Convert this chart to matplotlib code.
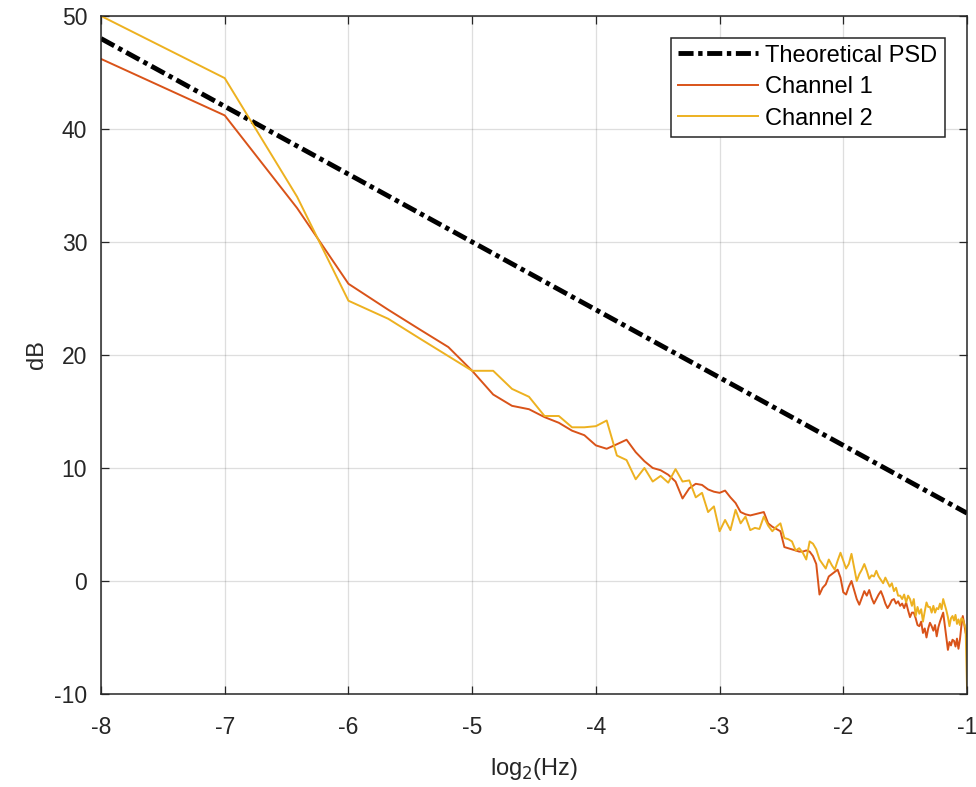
import numpy as np
import matplotlib
matplotlib.use("Agg")
import matplotlib.pyplot as plt

plt.rcParams['font.family'] = ['Liberation Sans', 'DejaVu Sans']
plt.rcParams['axes.unicode_minus'] = False

# =====================
# Data
# =====================
# frequency bins k/256 Hz, k = 1..128 -> plotted as log2(Hz)
bins = np.arange(1, 129)
fs_bins = 256

theory_x = [-8, -1]
theory_db = [48, 6]

ch1_db = [
    46.2, 41.2, 33.0, 26.3, 24.0, 22.2, 20.7, 18.6, 16.5, 15.5,
    15.2, 14.5, 14.0, 13.3, 12.9, 12.0, 11.7, 12.1, 12.5, 11.4,
    10.6, 10.0, 9.8, 9.4, 8.8, 7.3, 8.2, 8.6, 8.5, 8.1,
    7.9, 7.8, 8.0, 7.4, 6.9, 6.1, 5.9, 5.8, 5.9, 6.0,
    6.1, 5.1, 4.8, 4.6, 4.4, 3.0, 2.9, 2.8, 2.7, 2.6,
    2.6, 2.7, 2.6, 2.2, 1.5, -1.2, -0.6, -0.3, 0.4, 0.6,
    0.8, 1.0, 0.3, -1.0, -1.2, -0.5, 0.0, -0.8, -1.6, -2.1,
    -1.5, -0.9, -1.3, -0.8, -1.5, -2.0, -1.6, -1.2, -0.9, -1.4,
    -2.0, -2.4, -2.1, -1.7, -1.6, -2.0, -1.8, -2.2, -2.0, -2.4,
    -1.9, -2.6, -3.2, -2.8, -2.8, -3.3, -3.9, -4.0, -3.6, -4.6,
    -4.2, -5.0, -4.2, -3.7, -4.0, -4.4, -3.9, -4.9, -4.1, -3.6,
    -3.2, -2.8, -3.9, -5.0, -6.1, -5.4, -5.7, -5.2, -5.3, -5.8,
    -5.1, -6.0, -5.2, -4.0, -3.1, -3.8, -4.6, -4.9,
]

ch2_db = [
    50.0, 44.5, 34.0, 24.8, 23.2, 21.4, 19.9, 18.6, 18.6, 17.0,
    16.3, 14.6, 14.6, 13.6, 13.6, 13.7, 14.2, 11.1, 10.7, 9.0,
    10.0, 8.8, 9.3, 8.7, 9.9, 8.8, 8.9, 7.4, 7.8, 6.1,
    6.6, 4.4, 5.4, 4.5, 6.3, 5.1, 5.7, 4.5, 4.7, 4.6,
    5.7, 4.9, 4.4, 4.8, 5.1, 3.8, 3.7, 3.5, 2.7, 2.9,
    2.5, 1.9, 3.5, 3.3, 2.8, 1.9, 1.5, 1.1, 1.9, 1.4,
    1.0, 1.8, 2.5, 1.8, 1.1, 1.5, 2.4, 1.2, 0.0, 0.6,
    1.0, 1.5, 0.9, 0.2, 0.5, 0.4, 0.9, 0.4, 0.1, -0.2,
    0.3, -0.1, -0.5, -0.2, -0.9, -0.6, -1.3, -1.3, -1.6, -1.2,
    -1.9, -1.3, -1.6, -2.2, -1.6, -3.1, -2.3, -2.9, -2.5, -3.6,
    -2.7, -1.9, -2.3, -2.3, -2.8, -2.2, -2.8, -2.4, -2.5, -2.0,
    -2.5, -1.6, -2.1, -2.6, -3.2, -4.0, -3.3, -3.1, -3.5, -3.0,
    -3.8, -3.4, -3.9, -3.3, -3.4, -3.8, -4.2, -9.5,
]

log_f = np.log2(bins / fs_bins)

# =====================
# Plot
# =====================
fig = plt.figure(figsize=(9.76, 7.87), dpi=100)
ax = fig.add_axes([0.1035, 0.1182, 0.8873, 0.8615])

ax.plot(theory_x, theory_db, color='black', linestyle='-.', linewidth=3.5,
        dashes=(3.1, 0.95, 0.9, 0.95), label='Theoretical PSD')
ax.plot(log_f, ch1_db, color='#D95319', linewidth=1.4, label='Channel 1')
ax.plot(log_f, ch2_db, color='#EDB120', linewidth=1.4, label='Channel 2')

ax.set_xlim(-8, -1)
ax.set_ylim(-10, 50)
ax.set_xticks(range(-8, 0))
ax.set_yticks(range(-10, 51, 10))
ax.grid(True, color='#262626', alpha=0.15, linewidth=0.9)

ax.tick_params(direction='in', top=True, right=True, length=6, width=0.9,
               labelsize=16.5, colors='#262626')
ax.tick_params(axis='x', pad=16)
ax.tick_params(axis='y', pad=10)
for s in ax.spines.values():
    s.set_color('#262626')
    s.set_linewidth(1.1)

ax.set_xlabel('log$_2$(Hz)', fontsize=17, color='#262626', labelpad=12)
ax.set_ylabel('dB', fontsize=17, color='#262626', labelpad=4)

leg = ax.legend(loc='upper right', fontsize=17, handlelength=3.4,
                fancybox=False, framealpha=1, edgecolor='#262626',
                borderpad=0.3, labelspacing=0.4, handletextpad=0.3,
                borderaxespad=0, bbox_to_anchor=(0.974, 0.968))
leg.get_frame().set_linewidth(1.1)

fig.savefig('out.png', dpi=100)
